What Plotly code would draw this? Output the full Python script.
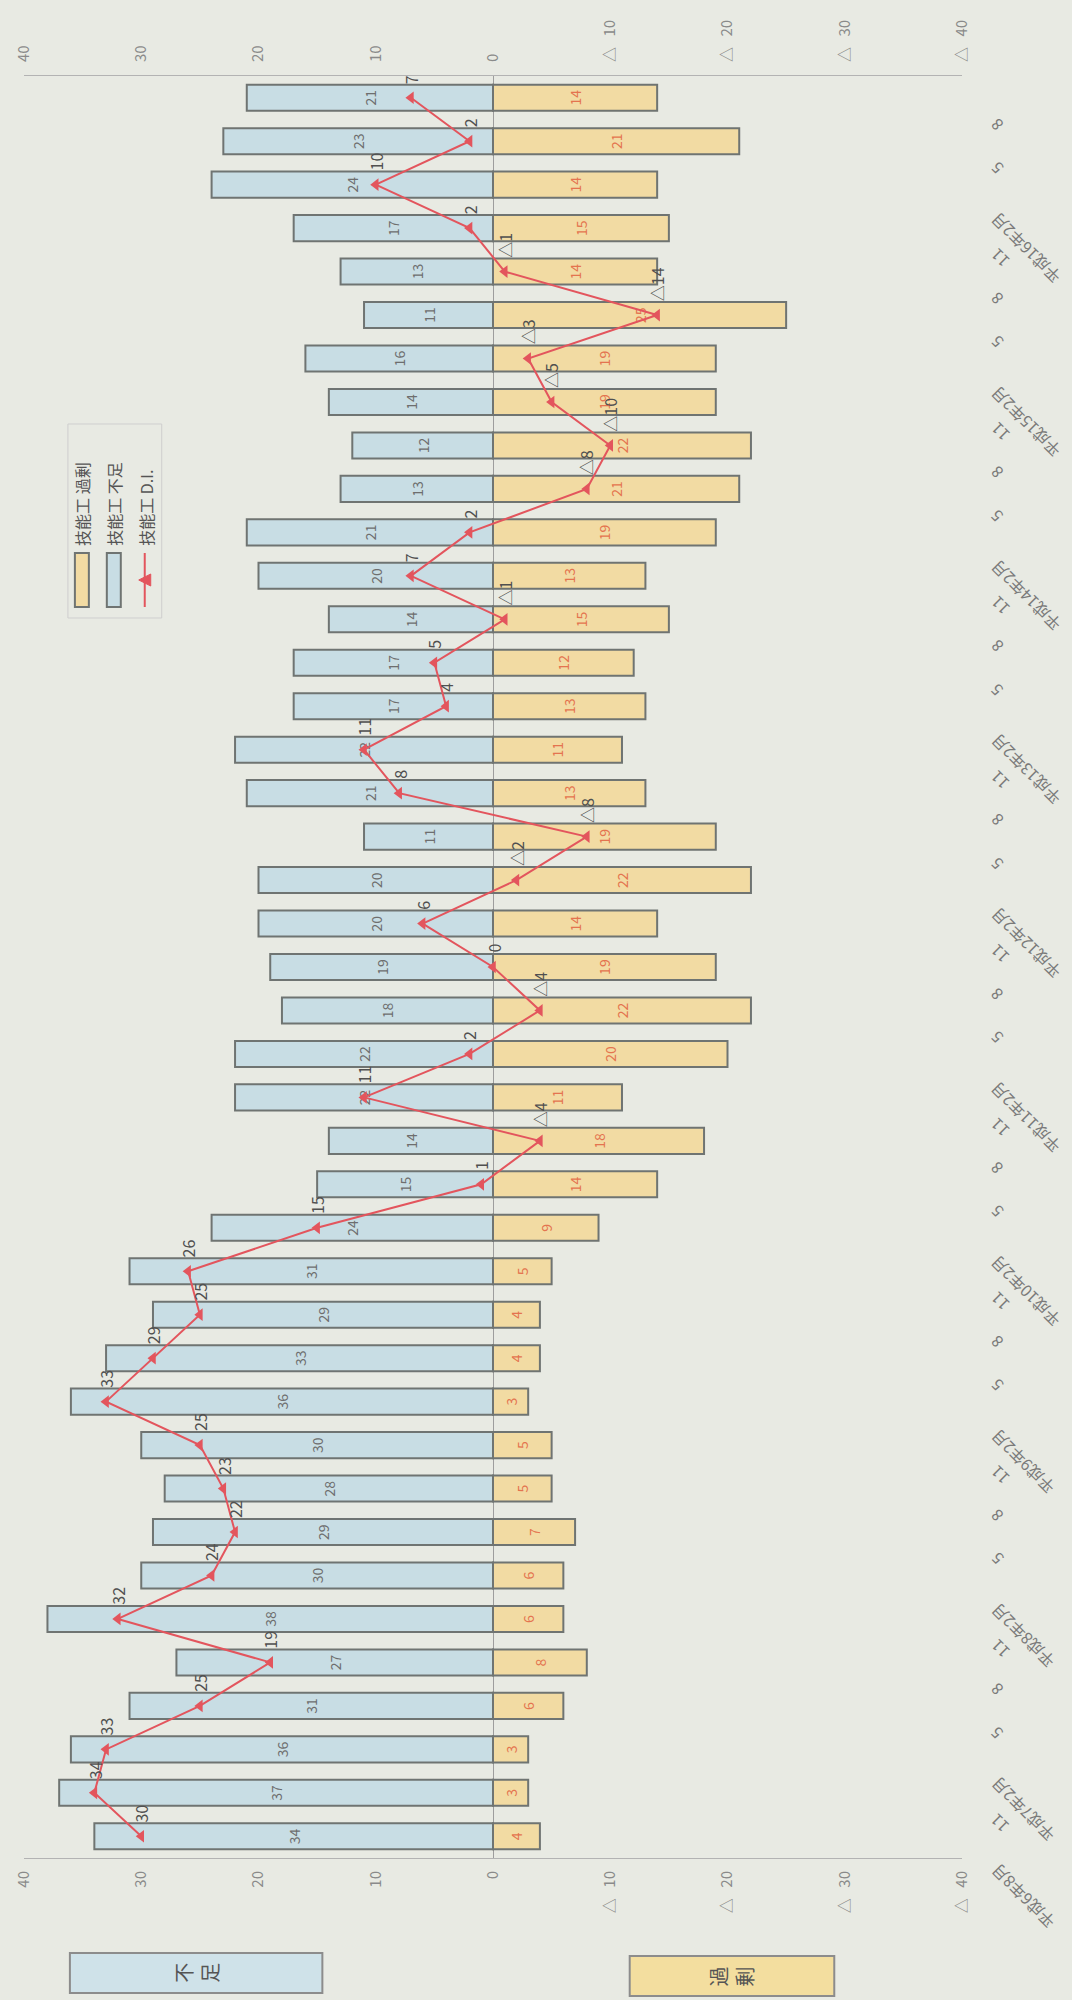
import plotly.graph_objects as go

# ---------------- data (bottom of chart -> top) ----------------
categories = [
    "平成6年8月", "平成6年11月",
    "平成7年2月", "平成7年5月", "平成7年8月", "平成7年11月",
    "平成8年2月", "平成8年5月", "平成8年8月", "平成8年11月",
    "平成9年2月", "平成9年5月", "平成9年8月", "平成9年11月",
    "平成10年2月", "平成10年5月", "平成10年8月", "平成10年11月",
    "平成11年2月", "平成11年5月", "平成11年8月", "平成11年11月",
    "平成12年2月", "平成12年5月", "平成12年8月", "平成12年11月",
    "平成13年2月", "平成13年5月", "平成13年8月", "平成13年11月",
    "平成14年2月", "平成14年5月", "平成14年8月", "平成14年11月",
    "平成15年2月", "平成15年5月", "平成15年8月", "平成15年11月",
    "平成16年2月", "平成16年5月", "平成16年8月",
]
tick_labels = [
    "平成6年8月", "11",
    "平成7年2月", "5", "8", "11",
    "平成8年2月", "5", "8", "11",
    "平成9年2月", "5", "8", "11",
    "平成10年2月", "5", "8", "11",
    "平成11年2月", "5", "8", "11",
    "平成12年2月", "5", "8", "11",
    "平成13年2月", "5", "8", "11",
    "平成14年2月", "5", "8", "11",
    "平成15年2月", "5", "8", "11",
    "平成16年2月", "5", "8",
]
shortage = [34, 37, 36, 31, 27, 38, 30, 29, 28, 30, 36, 33, 29, 31, 24, 15, 14,
            22, 22, 18, 19, 20, 20, 11, 21, 22, 17, 17, 14, 20, 21, 13, 12, 14,
            16, 11, 13, 17, 24, 23, 21]
surplus = [4, 3, 3, 6, 8, 6, 6, 7, 5, 5, 3, 4, 4, 5, 9, 14, 18,
           11, 20, 22, 19, 14, 22, 19, 13, 11, 13, 12, 15, 13, 19, 21, 22, 19,
           19, 25, 14, 15, 14, 21, 14]
di = [30, 34, 33, 25, 19, 32, 24, 22, 23, 25, 33, 29, 25, 26, 15, 1, -4,
      11, 2, -4, 0, 6, -2, -8, 8, 11, 4, 5, -1, 7, 2, -8, -10, -5,
      -3, -14, -1, 2, 10, 2, 7]

value_ticks = [40, 30, 20, 10, 0, -10, -20, -30, -40]
value_tick_labels = ["40", "30", "20", "10", "0",
                     "△\u2002\u200910", "△\u2002\u200920", "△\u2002\u200930", "△\u2002\u200940"]

legend_names = ["技能工 過剰", "技能工 不足", "技能工 D.I."]
box_labels = ["不<br>足", "過<br>剰"]

# ---------------- layout helpers ----------------
W, H = 1072, 2000
L, R, T, B = 22, 110, 76, 142
PW, PH = W - L - R, H - T - B


def px(x):
    return (x - L) / PW


def py(y):
    return (H - B - y) / PH


def fmt(v):
    return f"△{abs(v)}" if v < 0 else str(v)


BLUE = "#c8dde4"
ORANGE = "#f2dba3"
EDGE = "#6f7472"
RED = "#e3555d"
BG = "#e8eae3"
FONT = "Noto Sans CJK JP"

fig = go.Figure()

fig.add_trace(go.Bar(
    y=categories, x=shortage, orientation="h", name=legend_names[1], width=0.6,
    marker=dict(color=BLUE, line=dict(color=EDGE, width=2)),
    text=[str(v) for v in shortage], textposition="inside",
    insidetextanchor="middle", textangle=-90, constraintext="none",
    textfont=dict(size=14, color="#6e6e6e", family=FONT),
    hoverinfo="skip",
))
fig.add_trace(go.Bar(
    y=categories, x=[-v for v in surplus], orientation="h", name=legend_names[0], width=0.6,
    marker=dict(color=ORANGE, line=dict(color=EDGE, width=2)),
    text=[str(v) for v in surplus], textposition="inside",
    insidetextanchor="middle", textangle=-90, constraintext="none",
    textfont=dict(size=14, color="#e4744f", family=FONT),
    hoverinfo="skip",
))
fig.add_trace(go.Scatter(
    y=categories, x=di, mode="lines+markers", name=legend_names[2], xaxis="x2",
    line=dict(color=RED, width=2),
    marker=dict(symbol="triangle-left", size=11, color=RED),
    hoverinfo="skip",
))

annotations = []
for c, v in zip(categories, di):
    annotations.append(dict(
        x=v, y=c, xref="x", yref="y", text=fmt(v), textangle=-90, showarrow=False,
        xanchor="center", yanchor="bottom", yshift=12,
        font=dict(size=16, color="#505050", family=FONT)))

for c, lab in zip(categories, tick_labels):
    annotations.append(dict(
        x=px(982), y=c, xref="paper", yref="y", text=lab, textangle=-135,
        showarrow=False, xanchor="left", yanchor="top",
        yshift=-20 if len(lab) > 2 else -13,
        font=dict(size=16, color="#7a7a7a", family=FONT)))

# legend (drawn rotated like the reference)
shapes = [
    dict(type="rect", xref="paper", yref="paper", x0=px(66), x1=px(160), y0=py(424), y1=py(618),
         line=dict(color="#cfcfcf", width=1), fillcolor="rgba(0,0,0,0)"),
    dict(type="rect", xref="paper", yref="paper", x0=px(73), x1=px(87), y0=py(553), y1=py(607),
         line=dict(color=EDGE, width=2), fillcolor=ORANGE),
    dict(type="rect", xref="paper", yref="paper", x0=px(105), x1=px(119), y0=py(553), y1=py(607),
         line=dict(color=EDGE, width=2), fillcolor=BLUE),
    dict(type="line", xref="paper", yref="paper", x0=px(143), x1=px(143), y0=py(553), y1=py(607),
         line=dict(color=RED, width=2)),
    dict(type="path", xref="paper", yref="paper",
         path=f"M {px(137)} {py(580)} L {px(149)} {py(574)} L {px(149)} {py(586)} Z",
         line=dict(color=RED, width=1), fillcolor=RED),
    # 不足 / 過剰 boxes
    dict(type="rect", xref="paper", yref="paper", x0=px(68), x1=px(321), y0=py(1953), y1=py(1993),
         line=dict(color="#8c8c8c", width=2), fillcolor="#cfe2e9"),
    dict(type="rect", xref="paper", yref="paper", x0=px(629), x1=px(834), y0=py(1956), y1=py(1996),
         line=dict(color="#8c8c8c", width=2), fillcolor="#f3de9f"),
]
for name, xc in zip(legend_names, [80, 112, 144]):
    annotations.append(dict(
        x=px(xc), y=py(548), xref="paper", yref="paper", text=name, textangle=-90,
        showarrow=False, xanchor="center", yanchor="bottom",
        font=dict(size=16, color="#555555", family=FONT)))
for lab, xc, yc in zip(box_labels, [194, 731], [1973, 1976]):
    annotations.append(dict(
        x=px(xc), y=py(yc), xref="paper", yref="paper", text=lab, textangle=-90,
        showarrow=False, xanchor="center", yanchor="middle",
        font=dict(size=20, color="#555555", family=FONT)))

axis_common = dict(
    range=[40, -40], tickvals=value_ticks, ticktext=value_tick_labels, tickangle=-90,
    showgrid=False, showline=True, linecolor="#b3b3b3", linewidth=1, ticks="",
    tickfont=dict(size=15, color="#8a8a8a", family=FONT),
)

fig.update_layout(
    width=W, height=H, margin=dict(l=L, r=R, t=T, b=B),
    paper_bgcolor=BG, plot_bgcolor=BG, showlegend=False, barmode="relative",
    font=dict(family=FONT),
    xaxis=dict(**axis_common, zeroline=True, zerolinecolor="#9d9d9d", zerolinewidth=1,
               ticklabelstandoff=6),
    xaxis2=dict(**axis_common, overlaying="x", side="top", zeroline=False,
                ticklabelstandoff=10),
    yaxis=dict(categoryorder="array", categoryarray=categories, range=[-0.5, 40.5],
               showticklabels=False, showgrid=False, zeroline=False, showline=False),
    annotations=annotations, shapes=shapes,
)

fig.write_html(
    "out.html",
    config={"displayModeBar": False},
    post_script="document.body.style.margin='0';document.body.style.background='%s';" % BG,
)
